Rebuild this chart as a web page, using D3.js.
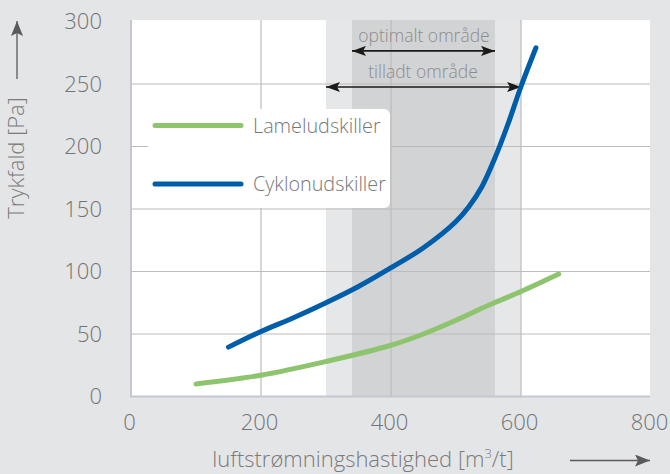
<!DOCTYPE html>
<html>
<head>
<meta charset="utf-8">
<script src="https://cdn.jsdelivr.net/npm/d3@7"></script>
<style>
  body { margin: 0; background: #e4e5e7; }
  svg { display: block; font-family: "Open Sans", sans-serif; font-weight: 300; }
</style>
</head>
<body>
<script>
// Data
const seriesNames = ["Lameludskiller", "Cyklonudskiller"];
const lamelX = [100, 200, 300, 400, 450, 500, 550, 600, 658];
const lamelY = [10, 17, 28, 41, 50, 61, 73, 84, 98];
const cyklonX = [150, 200, 250, 300, 350, 400, 450, 500, 520, 540, 560, 580, 600, 623];
const cyklonY = [39.5, 52, 63, 75, 88, 103, 119, 140, 152, 168, 191, 218, 248, 279];
const xTicks = [0, 200, 400, 600, 800];
const yTicks = [0, 50, 100, 150, 200, 250, 300];
const allowedRange = [300, 600];
const optimalRange = [340, 560];
const rangeLabels = ["optimalt område", "tilladt område"];

const w = 670;
const h = 474;

const xScale = d3.scaleLinear().domain([0, 800]).range([131, 651]);
const yScale = d3.scaleLinear().domain([0, 300]).range([396.5, 21.5]);

const svg = d3.select("body").append("svg").attr("width", w).attr("height", h);

// arrow markers
const defs = svg.append("defs");
defs.append("marker")
  .attr("id", "head")
  .attr("viewBox", "0 0 14 10")
  .attr("refX", 14).attr("refY", 5)
  .attr("markerWidth", 14).attr("markerHeight", 10)
  .attr("markerUnits", "userSpaceOnUse")
  .attr("orient", "auto-start-reverse")
  .append("path").attr("d", "M0,0 L14,5 L0,10 L3,5 Z").attr("fill", "#1a1a1a");
defs.append("marker")
  .attr("id", "headGrey")
  .attr("viewBox", "0 0 15 12")
  .attr("refX", 15).attr("refY", 6)
  .attr("markerWidth", 15).attr("markerHeight", 12)
  .attr("markerUnits", "userSpaceOnUse")
  .attr("orient", "auto")
  .append("path").attr("d", "M0,0 L15,6 L0,12 L3,6 Z").attr("fill", "#5a5a5a");

// plot background
svg.append("rect")
  .attr("x", xScale(0)).attr("y", 20)
  .attr("width", 650 - xScale(0)).attr("height", yScale(0) - 20)
  .attr("fill", "#fff");

// ranges
svg.append("rect")
  .attr("x", xScale(allowedRange[0])).attr("y", 20)
  .attr("width", xScale(allowedRange[1]) - xScale(allowedRange[0]))
  .attr("height", yScale(0) - 20)
  .attr("fill", "#e6e7e9");
svg.append("rect")
  .attr("x", xScale(optimalRange[0])).attr("y", 20)
  .attr("width", xScale(optimalRange[1]) - xScale(optimalRange[0]))
  .attr("height", yScale(0) - 20)
  .attr("fill", "#d2d3d5");

// grid
svg.append("g").selectAll("line")
  .data(yTicks.slice(1, -1))
  .enter().append("line")
  .attr("x1", xScale(0)).attr("x2", 650)
  .attr("y1", (d) => yScale(d)).attr("y2", (d) => yScale(d))
  .attr("stroke", "#bcbcbc").attr("stroke-width", 1.2);
svg.append("g").selectAll("line")
  .data(xTicks.slice(1, -1))
  .enter().append("line")
  .attr("x1", (d) => xScale(d)).attr("x2", (d) => xScale(d))
  .attr("y1", 20).attr("y2", yScale(0))
  .attr("stroke", "#bcbcbc").attr("stroke-width", 1.2);

// axis lines
svg.append("line")
  .attr("x1", xScale(0)).attr("x2", xScale(0))
  .attr("y1", 20).attr("y2", yScale(0) + 1)
  .attr("stroke", "#c4c7d1").attr("stroke-width", 2);
svg.append("line")
  .attr("x1", xScale(0) - 1).attr("x2", 650)
  .attr("y1", yScale(0)).attr("y2", yScale(0))
  .attr("stroke", "#c4c7d1").attr("stroke-width", 2);

// tick labels via axes
const yAxis = d3.axisLeft(yScale).tickValues(yTicks).tickSize(0).tickPadding(29);
const xAxis = d3.axisBottom(xScale).tickValues(xTicks).tickSize(0).tickPadding(18);

const gy = svg.append("g").attr("transform", "translate(" + xScale(0) + ",0)").call(yAxis);
const gx = svg.append("g").attr("transform", "translate(0," + yScale(0) + ")").call(xAxis);
[gy, gx].forEach((g) => {
  g.select(".domain").remove();
  g.selectAll("text")
    .attr("fill", "#737373")
    .style("font-size", "22px")
    .style("font-family", "'Open Sans', sans-serif")
    .style("font-weight", "300");
});
gx.selectAll("text").attr("dx", -2);

// range arrows
svg.append("line")
  .attr("x1", xScale(optimalRange[0])).attr("x2", xScale(optimalRange[1]))
  .attr("y1", yScale(276.5)).attr("y2", yScale(276.5))
  .attr("stroke", "#1a1a1a").attr("stroke-width", 1.6)
  .attr("marker-start", "url(#head)").attr("marker-end", "url(#head)");
svg.append("line")
  .attr("x1", xScale(allowedRange[0])).attr("x2", xScale(allowedRange[1]))
  .attr("y1", yScale(247.6)).attr("y2", yScale(247.6))
  .attr("stroke", "#1a1a1a").attr("stroke-width", 1.6)
  .attr("marker-start", "url(#head)").attr("marker-end", "url(#head)");

svg.append("text")
  .attr("x", 424).attr("y", 42)
  .attr("text-anchor", "middle")
  .attr("fill", "#8c8c8c").style("font-size", "17.5px")
  .text(rangeLabels[0]);
svg.append("text")
  .attr("x", 423).attr("y", 78)
  .attr("text-anchor", "middle")
  .attr("fill", "#8c8c8c").style("font-size", "17.5px")
  .text(rangeLabels[1]);

// curves
const line = d3.line()
  .x((d) => xScale(d[0]))
  .y((d) => yScale(d[1]))
  .curve(d3.curveCatmullRom.alpha(0.5));

const lamel = lamelX.map((x, i) => [x, lamelY[i]]);
const cyklon = cyklonX.map((x, i) => [x, cyklonY[i]]);
const colors = ["#8fc46f", "#005daa"];

svg.append("path").datum(lamel)
  .attr("d", line).attr("fill", "none")
  .attr("stroke", colors[0]).attr("stroke-width", 5).attr("stroke-linecap", "round");
svg.append("path").datum(cyklon)
  .attr("d", line).attr("fill", "none")
  .attr("stroke", colors[1]).attr("stroke-width", 5).attr("stroke-linecap", "round");

// legend
svg.append("rect")
  .attr("x", 148).attr("y", 109).attr("width", 242).attr("height", 99)
  .attr("rx", 6).attr("fill", "#fff");
const legend = svg.append("g").selectAll("g")
  .data(seriesNames)
  .enter().append("g")
  .attr("transform", (d, i) => "translate(0," + (125.5 + i * 58.5) + ")");
legend.append("line")
  .attr("x1", 155).attr("x2", 241)
  .attr("stroke", (d, i) => colors[i]).attr("stroke-width", 5).attr("stroke-linecap", "round");
legend.append("text")
  .attr("x", 253).attr("y", 7)
  .attr("fill", "#777").style("font-size", "19.8px")
  .text((d) => d);

// axis titles
svg.append("text")
  .attr("transform", "translate(24,158) rotate(-90)")
  .attr("text-anchor", "middle")
  .attr("fill", "#7a7a7a").style("font-size", "22px")
  .text("Trykfald [Pa]");
svg.append("line")
  .attr("x1", 17).attr("x2", 17).attr("y1", 79).attr("y2", 21)
  .attr("stroke", "#5a5a5a").attr("stroke-width", 1.3)
  .attr("marker-end", "url(#headGrey)");

const xt = svg.append("text")
  .attr("x", 363).attr("y", 467)
  .attr("text-anchor", "middle")
  .attr("fill", "#7a7a7a").style("font-size", "22px");
xt.append("tspan").text("luftstrømningshastighed [m");
xt.append("tspan").attr("baseline-shift", "super").style("font-size", "13px").text("3");
xt.append("tspan").text("/t]");
svg.append("line")
  .attr("x1", 570).attr("x2", 650).attr("y1", 460.5).attr("y2", 460.5)
  .attr("stroke", "#5a5a5a").attr("stroke-width", 1.3)
  .attr("marker-end", "url(#headGrey)");
</script>
</body>
</html>
